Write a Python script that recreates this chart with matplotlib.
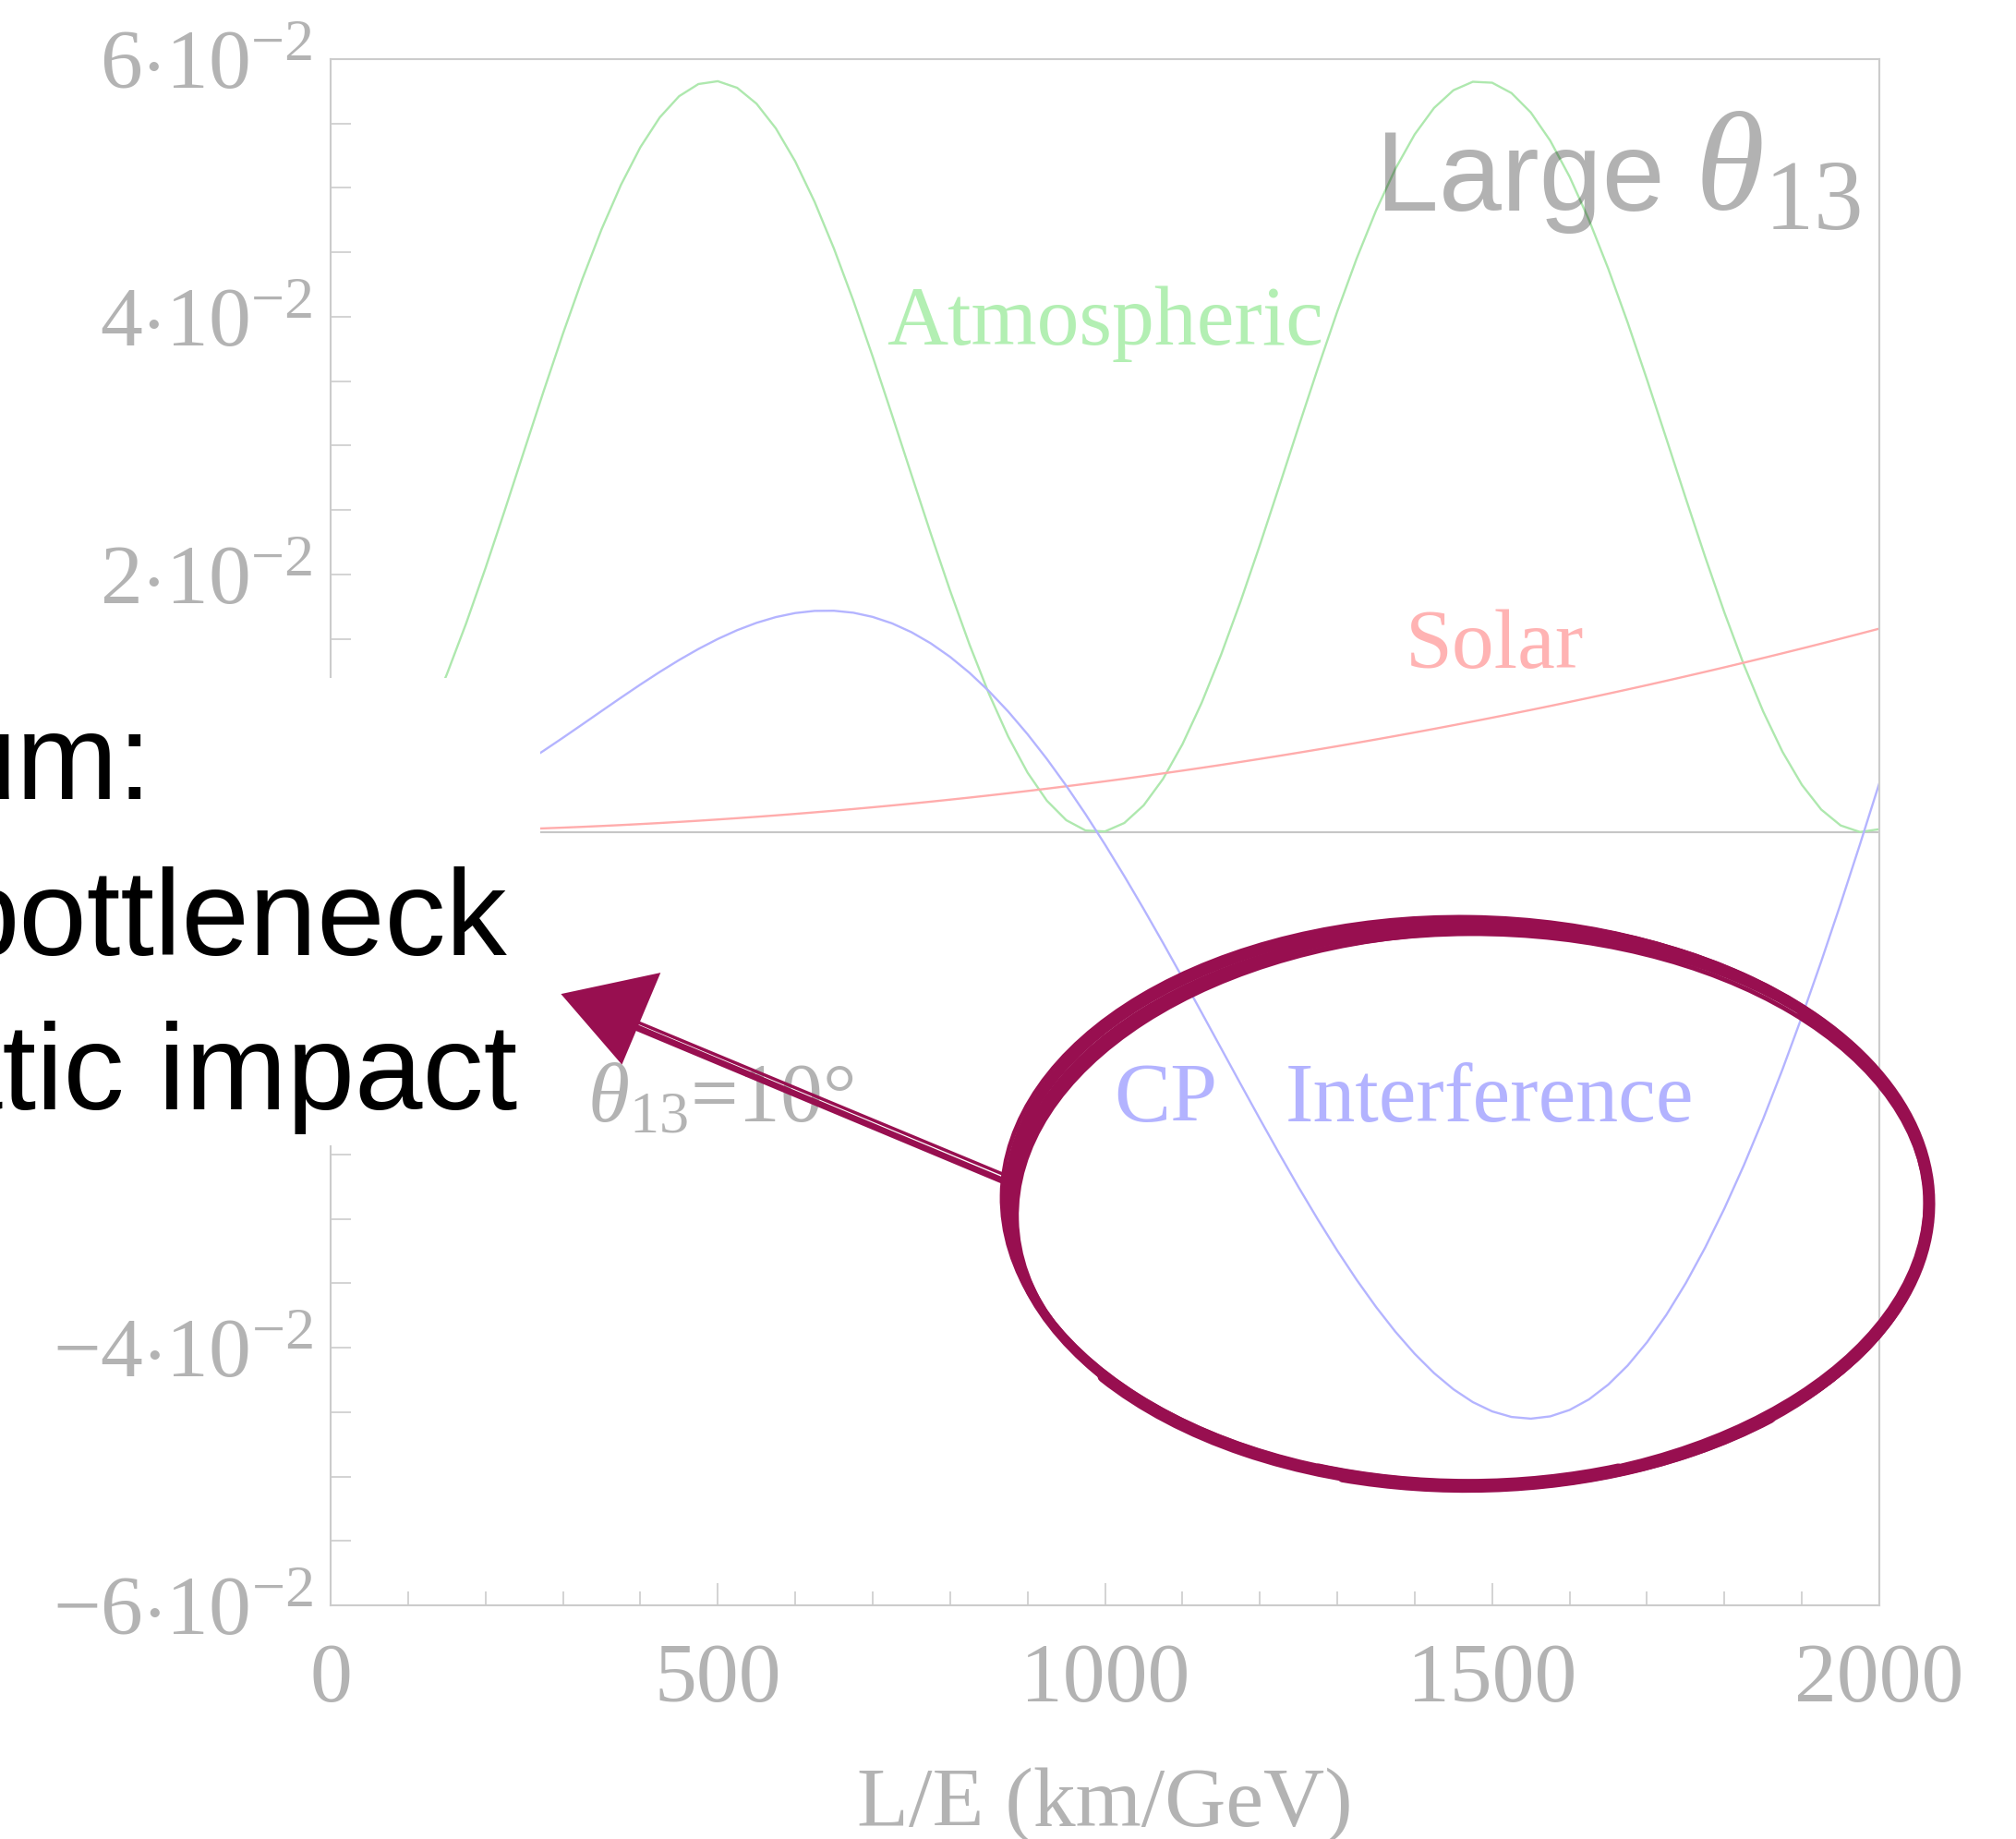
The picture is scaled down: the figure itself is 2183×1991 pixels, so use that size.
import matplotlib
matplotlib.use("Agg")
import matplotlib.pyplot as plt
from matplotlib.patches import Rectangle, Ellipse, Polygon, Arc
from matplotlib.lines import Line2D
from matplotlib.ticker import MultipleLocator
from matplotlib.transforms import Affine2D

plt.rcParams['mathtext.fontset'] = 'custom'
plt.rcParams['mathtext.rm'] = 'Liberation Serif'
plt.rcParams['mathtext.it'] = 'Liberation Serif:italic'
plt.rcParams['mathtext.bf'] = 'Liberation Serif:bold'

# ---------------- data ----------------
LE = list(range(0, 2001, 25))  # L/E in km/GeV

atmospheric = [0.000000, 0.000366, 0.001455, 0.003240, 0.005676, 0.008702, 0.012241, 0.016205,
               0.020494, 0.025001, 0.029615, 0.034211, 0.038684, 0.042916, 0.046803, 0.050246,
               0.053160, 0.055471, 0.057119, 0.058066, 0.058285, 0.057773, 0.056542, 0.054623,
               0.052063, 0.048928, 0.045297, 0.041261, 0.036918, 0.032381, 0.027764, 0.023180,
               0.018747, 0.014575, 0.010770, 0.007426, 0.004628, 0.002445, 0.000934, 0.000132,
               0.000059, 0.000716, 0.002088, 0.004140, 0.006820, 0.010060, 0.013782, 0.017888,
               0.022278, 0.026840, 0.031461, 0.036022, 0.040413, 0.044519, 0.048239, 0.051480,
               0.054160, 0.056212, 0.057584, 0.058242, 0.058168, 0.057365, 0.055854, 0.053673,
               0.050875, 0.047531, 0.043725, 0.039555, 0.035120, 0.030538, 0.025919, 0.021383,
               0.017041, 0.013003, 0.009371, 0.006237, 0.003677, 0.001758, 0.000527, 0.000015,
               0.000234]

solar = [0.0000000, 0.0000025, 0.0000099, 0.0000222, 0.0000395, 0.0000617, 0.0000889, 0.000121,
         0.000158, 0.000200, 0.000247, 0.000299, 0.000356, 0.000417, 0.000484, 0.000555,
         0.000632, 0.000713, 0.000800, 0.000891, 0.000988, 0.001089, 0.001195, 0.001306,
         0.001422, 0.001543, 0.001669, 0.001800, 0.001936, 0.002076, 0.002222, 0.002372,
         0.002528, 0.002688, 0.002854, 0.003024, 0.003200, 0.003380, 0.003565, 0.003755,
         0.003950, 0.004150, 0.004355, 0.004565, 0.004780, 0.004999, 0.005224, 0.005453,
         0.005688, 0.005927, 0.006172, 0.006421, 0.006676, 0.006935, 0.007199, 0.007468,
         0.007742, 0.008021, 0.008305, 0.008594, 0.008888, 0.009186, 0.009490, 0.009798,
         0.010112, 0.010430, 0.010754, 0.011082, 0.011415, 0.011754, 0.012097, 0.012445,
         0.012798, 0.013156, 0.013519, 0.013887, 0.014259, 0.014637, 0.015020, 0.015407,
         0.015800]

cp_interference = [0.000000, 0.000059, 0.000237, 0.000530, 0.000936, 0.001449, 0.002062, 0.002768,
                   0.003557, 0.004420, 0.005345, 0.006320, 0.007331, 0.008365, 0.009408, 0.010444,
                   0.011459, 0.012437, 0.013363, 0.014221, 0.014998, 0.015679, 0.016249, 0.016697,
                   0.017010, 0.017177, 0.017188, 0.017036, 0.016711, 0.016210, 0.015527, 0.014660,
                   0.013609, 0.012375, 0.010960, 0.009368, 0.007607, 0.005683, 0.003608, 0.001392,
                   -0.000952, -0.003408, -0.005962, -0.008594, -0.011287, -0.014020, -0.016774, -0.019526,
                   -0.022254, -0.024935, -0.027548, -0.030066, -0.032471, -0.034736, -0.036840, -0.038762,
                   -0.040481, -0.041978, -0.043232, -0.044228, -0.044949, -0.045382, -0.045514, -0.045336,
                   -0.044839, -0.044018, -0.042868, -0.041390, -0.039584, -0.037454, -0.035005, -0.032249,
                   -0.029195, -0.025857, -0.022252, -0.018398, -0.014315, -0.010028, -0.005561, -0.000940,
                   0.003805]

x_ticks = [0, 500, 1000, 1500, 2000]
x_tick_labels = ["0", "500", "1000", "1500", "2000"]
y_ticks = [-0.06, -0.04, -0.02, 0.0, 0.02, 0.04, 0.06]
y_tick_labels = [r"$-6{\cdot}10^{-2}$", r"$-4{\cdot}10^{-2}$", r"$-2{\cdot}10^{-2}$", r"$0$",
                 r"$2{\cdot}10^{-2}$", r"$4{\cdot}10^{-2}$", r"$6{\cdot}10^{-2}$"]

slide_lines = ["um:", "bottleneck", "atic impact"]

# ---------------- figure ----------------
W, H, DPI = 2183, 1991, 100
fig = plt.figure(figsize=(W / DPI, H / DPI), dpi=DPI)
fig.patch.set_facecolor('white')
# pixel transform (x right, y down from top-left of the picture)
PIX = Affine2D().scale(1.0 / DPI, -1.0 / DPI).translate(0, H / DPI) + fig.dpi_scale_trans

ax = fig.add_axes([358 / W, 1 - 1738 / H, (2035 - 358) / W, (1738 - 64) / H])

GRAY = '#b3b3b3'
FRAME = '#cccccc'
SERIF = 'Liberation Serif'

ax.axhline(0, color='#c6c6c6', lw=1.5, zorder=1)
ax.plot(LE, atmospheric, color='#aee8ae', lw=1.7, zorder=2)
ax.plot(LE, solar, color='#ffacac', lw=1.7, zorder=2)
ax.plot(LE, cp_interference, color='#b4b4ff', lw=1.7, zorder=2)

ax.set_xlim(0, 2000)
ax.set_ylim(-0.06, 0.06)
for s in ax.spines.values():
    s.set_color(FRAME)
    s.set_linewidth(1.5)

ax.set_xticks(x_ticks)
ax.set_xticklabels(x_tick_labels)
ax.xaxis.set_minor_locator(MultipleLocator(100))
ax.set_yticks(y_ticks)
ax.set_yticklabels(y_tick_labels)
ax.yaxis.set_minor_locator(MultipleLocator(0.005))

ax.tick_params(axis='both', which='both', direction='in', color=FRAME, width=1.2,
               top=False, right=False, labelcolor=GRAY, labelsize=66)
ax.tick_params(axis='x', which='major', length=17, pad=29)
ax.tick_params(axis='x', which='minor', length=11)
ax.tick_params(axis='y', which='both', length=16, pad=14)
for lab in ax.get_xticklabels() + ax.get_yticklabels():
    lab.set_fontfamily(SERIF)

ax.set_xlabel("L/E (km/GeV)", fontsize=66, color=GRAY, fontfamily=SERIF, va='baseline')
ax.xaxis.set_label_coords(0.5, -(1977 - 1738) / 1674)

# in-plot labels
ax.text(718, 0.03785, "Atmospheric", color='#b3efb3', fontsize=66, fontfamily=SERIF,
        ha='left', va='baseline', zorder=1.5)
ax.text(1388, 0.01276, "Solar", color='#ffb3b3', fontsize=66, fontfamily=SERIF,
        ha='left', va='baseline', zorder=1.5)
ax.text(1012, -0.02244, "CP", color='#b3b3ff', fontsize=66, fontfamily=SERIF,
        ha='left', va='baseline', zorder=1.5)
ax.text(1233, -0.02244, "Interference", color='#b3b3ff', fontsize=66, fontfamily=SERIF,
        ha='left', va='baseline', zorder=1.5)
ax.text(331, -0.02244, r"$\theta_{13}$=10°", color=GRAY, fontsize=66, fontfamily=SERIF,
        ha='left', va='baseline', zorder=1.5)
ax.text(1350, 0.04824, "Large", color='black', alpha=0.3, fontsize=88,
        fontfamily='Liberation Sans', ha='left', va='baseline', zorder=3)
ax.text(1762, 0.04824, r"$\theta_{13}$", color='black', alpha=0.3, fontsize=110,
        fontfamily=SERIF, ha='left', va='baseline', zorder=3)

# ---------------- slide overlay ----------------
fig.add_artist(Rectangle((0, 734), 585, 506, transform=PIX, facecolor='white',
                         edgecolor='none', zorder=5))
slide_x = [-56, -52, -71]
slide_y = [865, 1034, 1201]
for txt, sx, sy in zip(slide_lines, slide_x, slide_y):
    fig.text(sx, sy, txt, transform=PIX, fontsize=95, fontfamily='Liberation Sans',
             color='black', ha='left', va='baseline', zorder=6)

MAROON = '#980f50'
# hand-drawn ring: several overlapping strokes
ELL_CX = [1590, 1592, 1588, 1593, 1589, 1591, 1590, 1592]
ELL_CY = [1303, 1306, 1301, 1308, 1299, 1305, 1302, 1309]
ELL_W = [1000, 992, 1006, 986, 998, 994, 1002, 988]
ELL_H = [612, 604, 616, 598, 610, 606, 608, 596]
ELL_A = [0, -1, 0.8, -1.5, 0.4, -0.6, 1.2, -0.3]
ELL_LW = [6.0, 5.0, 3.5, 4.5, 3.0, 4.5, 2.5, 3.5]
for cx, cy, w, h, a, lw in zip(ELL_CX, ELL_CY, ELL_W, ELL_H, ELL_A, ELL_LW):
    fig.add_artist(Ellipse((cx, cy), w, h, angle=a, transform=PIX, facecolor='none',
                           edgecolor=MAROON, lw=lw, zorder=7))
# heavier strokes along the bottom and right side
ARC_CX = [1590, 1592, 1588, 1591, 1589, 1590]
ARC_CY = [1306, 1300, 1312, 1303, 1304, 1308]
ARC_W = [996, 1004, 990, 1000, 994, 984]
ARC_H = [606, 618, 600, 610, 604, 596]
ARC_T1 = [35, 55, 20, -50, -30, 60]
ARC_T2 = [155, 128, 115, 40, 25, 120]
ARC_LW = [9.0, 8.0, 6.0, 6.5, 5.0, 7.0]
for cx, cy, w, h, t1, t2, lw in zip(ARC_CX, ARC_CY, ARC_W, ARC_H, ARC_T1, ARC_T2, ARC_LW):
    fig.add_artist(Arc((cx, cy), w, h, theta1=t1, theta2=t2, transform=PIX,
                       edgecolor=MAROON, lw=lw, zorder=7, capstyle='round'))

fig.add_artist(Line2D([1090, 688], [1280, 1112], transform=PIX, color=MAROON, lw=5,
                      solid_capstyle='round', zorder=7))
fig.add_artist(Line2D([1088, 684], [1272, 1104], transform=PIX, color=MAROON, lw=2.5,
                      solid_capstyle='round', zorder=7))
fig.add_artist(Polygon([(610, 1077), (713, 1055), (673, 1150)], closed=True, transform=PIX,
                       facecolor=MAROON, edgecolor=MAROON, lw=2, zorder=7))

fig.savefig("out.png", dpi=DPI, facecolor='white')
